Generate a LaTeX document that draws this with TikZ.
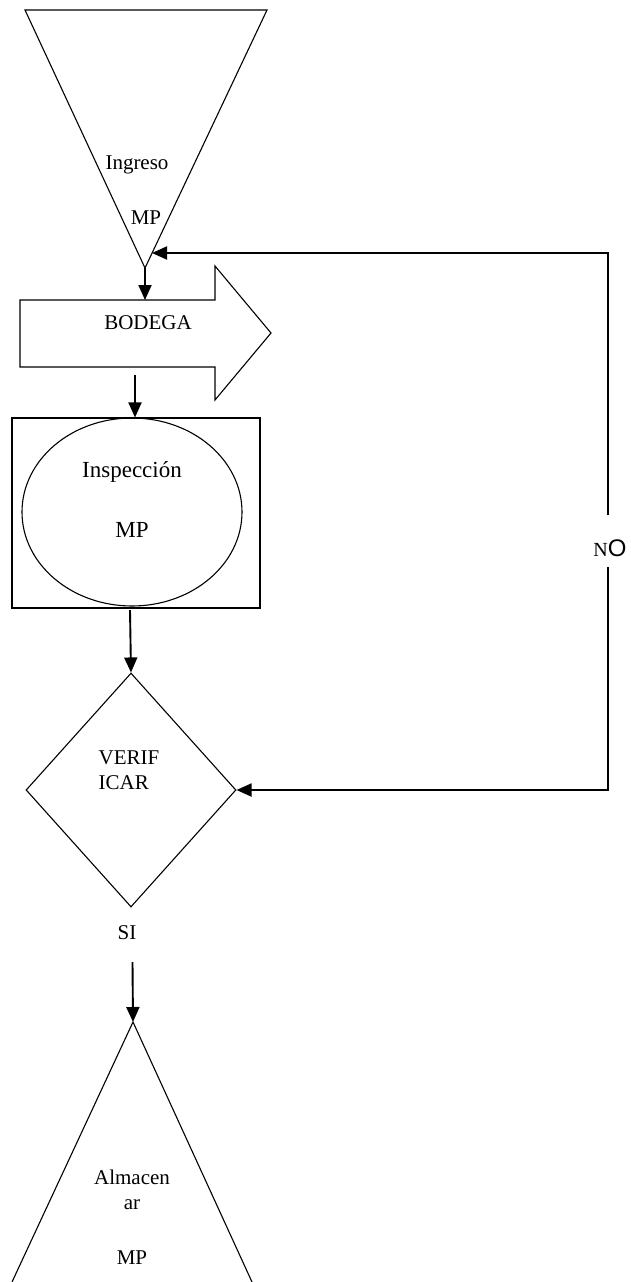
\documentclass[tikz,border=0pt]{standalone}
\usepackage{fontspec}
\setmainfont{Liberation Serif}
\newfontfamily\labelsans{Liberation Sans}
\usetikzlibrary{arrows.meta,shapes.geometric}

\tikzset{
  shapeline/.style={draw=black, line width=1.1pt, line join=miter},
  conn/.style={draw=black, line width=1.9pt, -{Triangle[length=15pt,width=13pt]}},
  txt/.style={inner sep=0pt, font=\fontsize{21}{25}\selectfont},
  bigtxt/.style={inner sep=0pt, font=\fontsize{23}{27}\selectfont},
}

\begin{document}
\begin{tikzpicture}[x=1pt,y=-1pt]
  \useasboundingbox (0,0) rectangle (630,1282);
  \clip (0,0) rectangle (630,1282);

  % --- Ingreso MP: inverted triangle ---
  \coordinate (inTL) at (25,10);
  \coordinate (inTR) at (267,10);
  \coordinate (inApex) at (145,268);
  \coordinate (inInlet) at (152,253);
  \draw[shapeline] (inTL) -- (inTR) -- (inApex) -- cycle;
  \node[txt] (ingreso) at (137,165) {Ingreso};
  \node[txt] (ingresoMP) at (146,218) {MP};

  % --- BODEGA: block arrow ---
  \coordinate (bodTop) at (145,300);
  \coordinate (bodBot) at (135,375);
  \draw[shapeline] (20,300) -- (215,300) -- (215,266) -- (271,333)
        -- (215,400) -- (215,367) -- (20,367) -- cycle;
  \node[txt] (bodega) at (148,323) {BODEGA};

  % --- Inspeccion MP: circle inside a square ---
  \node[shapeline, rectangle, minimum width=248pt, minimum height=190pt,
        inner sep=0pt] (inspbox) at (136,513) {};
  \node[shapeline, ellipse, minimum width=220pt, minimum height=188pt,
        inner sep=0pt] (insp) at (132,512) {};
  \node[bigtxt] (inspText) at (132,472) {Inspección};
  \node[bigtxt] (inspMP) at (132,530) {MP};
  \coordinate (inspOut) at (130,610);

  % --- VERIFICAR: decision diamond ---
  \node[shapeline, diamond, minimum width=210pt, minimum height=234pt,
        inner sep=0pt] (verif) at (131,790) {};
  \node[txt, align=left] (verifText) at (129,770) {VERIF\\ICAR};

  % --- SI branch ---
  \node[txt] (si) at (127,933) {SI};
  \coordinate (siOut) at (132.5,962);

  % --- Almacenar MP: upright triangle ---
  \coordinate (alApex) at (133,1022);
  \draw[shapeline] (12,1282) -- (alApex) -- (252,1282);
  \node[txt] (alm1) at (132,1177) {Almacen};
  \node[txt] (alm2) at (132,1205) {ar};
  \node[txt] (almMP) at (132,1258) {MP};

  % --- NO return loop ---
  \node[inner sep=0pt] (no) at (610,548)
     {{\fontsize{20}{20}\selectfont N}{\labelsans\fontsize{24}{24}\selectfont O}};
  \coordinate (noTop) at (608,515);
  \coordinate (noBot) at (608,567);

  % --- connectors ---
  \draw[conn] (inApex) -- (bodTop);
  \draw[conn] (bodBot) -- (inspbox.north -| bodBot);
  \draw[conn] (inspOut) -- (verif.north);
  \draw[conn] (siOut) -- (alApex);
  \draw[conn] (noBot) |- (verif.east);
  \draw[conn] (noTop) |- (inInlet);
\end{tikzpicture}
\end{document}
